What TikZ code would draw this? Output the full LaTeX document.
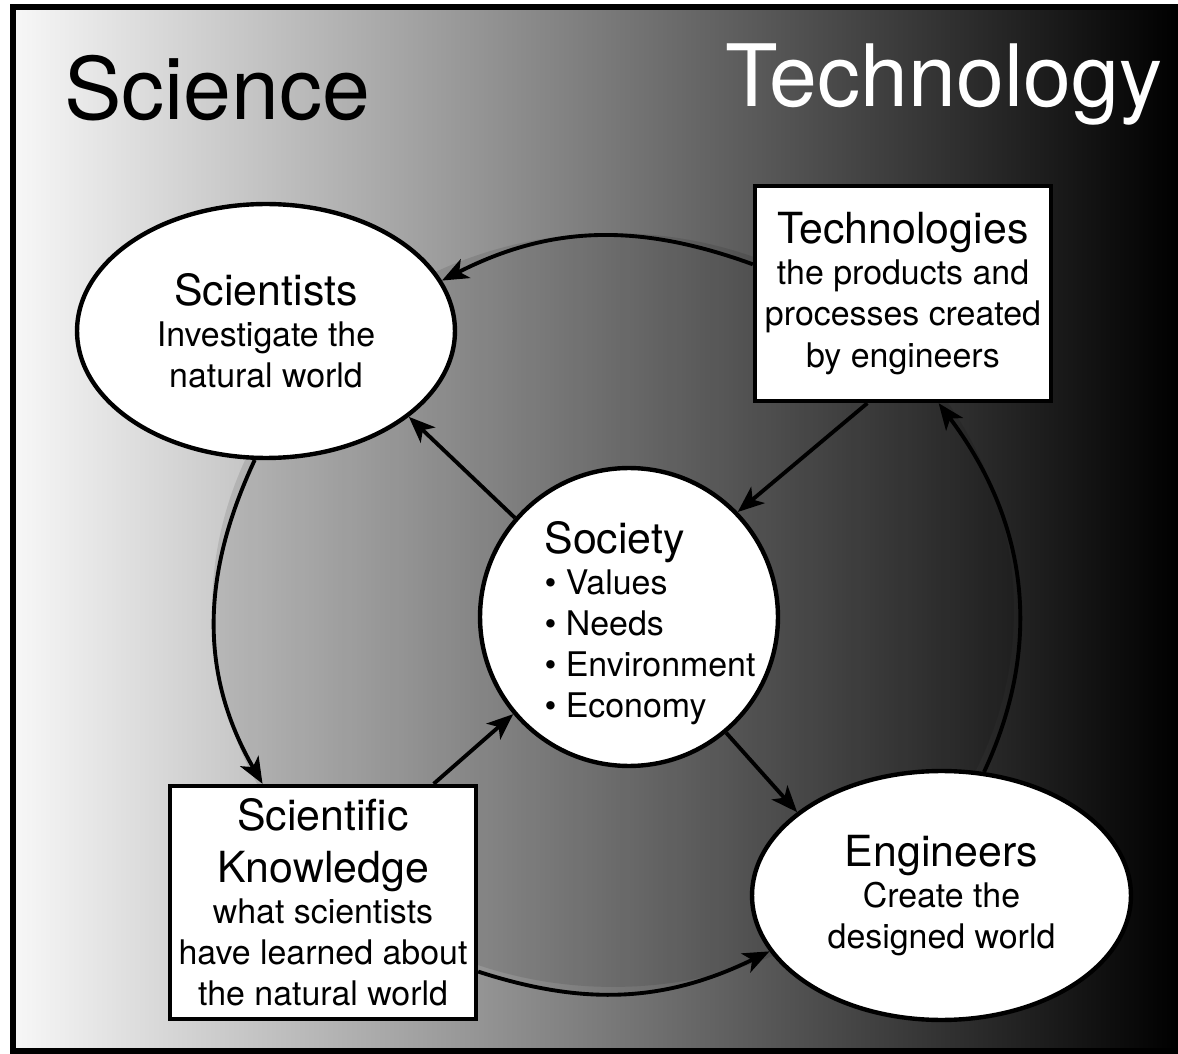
\documentclass[tikz,border=0pt]{standalone}
\usepackage{fontspec}
\setmainfont{TeX Gyre Heros}
\usetikzlibrary{shapes.geometric,arrows.meta}

\newcommand{\titrefont}{\fontsize{49}{55}\selectfont}
\newcommand{\grandfont}{\fontsize{24.4}{28.5}\selectfont}
\newcommand{\petitfont}{\fontsize{19.3}{23.4}\selectfont}

\begin{document}
\begin{tikzpicture}[x=0.02cm, y=-0.02cm]
			\tikzset{ovale/.style={ellipse, draw=black, fill=white, line width=2.5pt, inner sep=0pt, align=center, font=\petitfont},
			boite/.style={rectangle, draw=black, fill=white, line width=2.5pt, inner sep=0pt, align=center, font=\petitfont},
			fleche/.style={line width=2.2pt, -{Stealth[length=15pt, width=12pt, inset=4pt]}}};

			\useasboundingbox (0,0) rectangle (1178,1054);
			\fill[white] (0,0) rectangle (1178,1054);
			\shade[left color=black!3, right color=black] (13,7) rectangle (1178,1051);
			\fill[black, opacity=0.1] (613,610) ellipse [x radius=8.02cm, y radius=7.54cm];
			\draw[line width=3.4pt] (13,7) rectangle (1178,1051);

			\node[anchor=base west, font=\titrefont] (science) at (58,120) {Science};
			\node[anchor=base west, font=\titrefont, text=white] (technology) at (719,107) {Technology};

			\node[ovale, minimum width=7.56cm, minimum height=5.08cm] (scientists) at (266,331) {{\grandfont Scientists}\\Investigate the\\natural world};
			\node[boite, minimum width=5.92cm, minimum height=4.3cm] (technologies) at (903,293.5) {{\grandfont Technologies}\\the products and\\processes created\\by engineers};
			\node[circle, draw=black, fill=white, line width=2.5pt, minimum size=5.96cm] (society) at (629,617) {};
			\node[align=left, font=\petitfont] (items) at (650,623) {{\grandfont Society}\\\textbullet\ Values\\\textbullet\ Needs\\\textbullet\ Environment\\\textbullet\ Economy};
			\node[boite, minimum width=6.12cm, minimum height=4.66cm] (knowledge) at (323,902.5) {{\grandfont Scientific}\\[6pt]{\grandfont Knowledge}\\what scientists\\have learned about\\the natural world};
			\node[ovale, minimum width=7.58cm, minimum height=4.98cm] (engineers) at (941.5,895.5) {{\grandfont Engineers}\\Create the\\designed world};

			\draw[fleche] (technologies.169) to[out=160, in=27] (scientists.16);
			\draw[fleche] (scientists.265) to[out=245, in=120] (knowledge.117);
			\draw[fleche] (knowledge.-24) to[out=-18, in=206] (engineers.198);
			\draw[fleche] (engineers.71) to[out=65, in=-53] (technologies.-72);

			\draw[fleche] (technologies.252) -- (society.44);
			\draw[fleche] (society.139) -- (scientists.-31);
			\draw[fleche] (knowledge.47) -- (society.220);
			\draw[fleche] (society.-50) -- (engineers.150);
		\end{tikzpicture}
\end{document}
